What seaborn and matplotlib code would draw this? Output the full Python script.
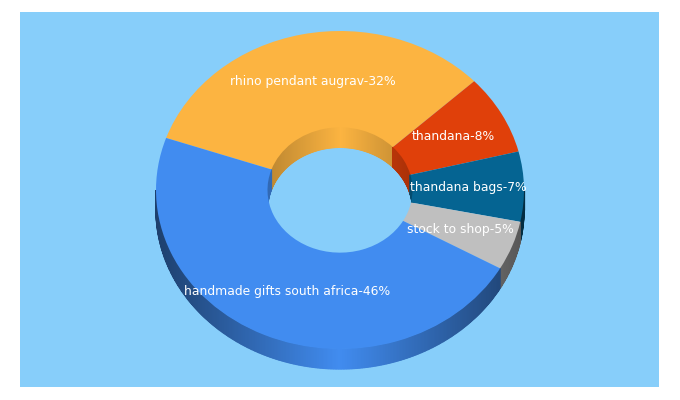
import numpy as np
import seaborn as sns
import matplotlib
matplotlib.use("Agg")
import matplotlib.pyplot as plt

categories = ["rhino pendant augrav", "thandana", "thandana bags", "stock to shop", "handmade gifts south africa"]
shown_percent = [32, 8, 7, 5, 46]
slice_shares = [32.7, 8.1, 7.1, 5.0, 47.1]
colors = ["#FCB441", "#E0400A", "#056492", "#BFBFBF", "#418CF0"]
background = "#87CEFA"

START_ANGLE = 160.9
HOLE = 0.394
PX_X, PX_Y = 184.0, 159.0
CX, CY = 340.0, 190.0
DEPTH = 20.0 / PX_Y

sns.set_theme(style="white")
plt.rcParams["font.family"] = ["DejaVu Sans"]

fig = plt.figure(figsize=(6.8, 4.0), dpi=100, facecolor="white")
ax = fig.add_axes([20 / 680, (400 - 387) / 400, 639 / 680, 375 / 400])

ax.pie(slice_shares, colors=colors, radius=1.0, startangle=START_ANGLE, counterclock=False,
       wedgeprops=dict(width=1 - HOLE, linewidth=0.3, edgecolor="none", zorder=5))
ax.set_aspect("auto")
ax.set_frame_on(True)
for s in ax.spines.values():
    s.set_visible(False)
ax.set_facecolor(background)
ax.set_xlim((20 - CX) / PX_X, (659 - CX) / PX_X)
ax.set_ylim((CY - 387) / PX_Y, (CY - 12) / PX_Y)

shares = np.array(slice_shares, dtype=float)
spans = shares / shares.sum() * 360.0
ends = START_ANGLE - np.cumsum(spans)
starts = ends + spans


def shade(color, factor):
    r, g, b = matplotlib.colors.to_rgb(color)
    return (r * factor, g * factor, b * factor)


def wall(radius, a0, a1, color, amount, z):
    lo, hi = min(a0, a1), max(a0, a1)
    edges = np.arange(lo, hi + 0.5, 0.5)
    edges = edges[edges < hi]
    edges = np.append(edges, hi)
    for p, q in zip(edges[:-1], edges[1:]):
        t = np.radians(np.r_[p, q, q, p])
        xs = radius * np.cos(t)
        ys = radius * np.sin(t) - np.array([0, 0, DEPTH, DEPTH])
        f = 1 - amount * abs(np.cos(np.radians((p + q) / 2)))
        ax.fill(xs, ys, color=shade(color, f), lw=0.9, zorder=z)


for st, en, col in zip(starts, ends, colors):
    # Outer wall: visible over the lower half of the ellipse
    for k in (0, -360):
        a0, a1 = max(en, -180 + k), min(st, 0 + k)
        if a1 > a0:
            wall(1.0, a0, a1, col, 0.55, 2)
    # Inner wall: visible over the upper half of the hole
    for k in (0, 360, -360):
        a0, a1 = max(en, 0 + k), min(st, 180 + k)
        if a1 > a0:
            wall(HOLE, a0, a1, col, 0.25, 2)

mids = np.radians((starts + ends) / 2)
for name, pct, m in zip(categories, shown_percent, mids):
    ax.text(0.7 * np.cos(m), 0.7 * np.sin(m), f"{name}-{pct}%", color="white",
            fontsize=8.9, ha="center", va="center", zorder=10)

fig.savefig("out.png", dpi=100)
